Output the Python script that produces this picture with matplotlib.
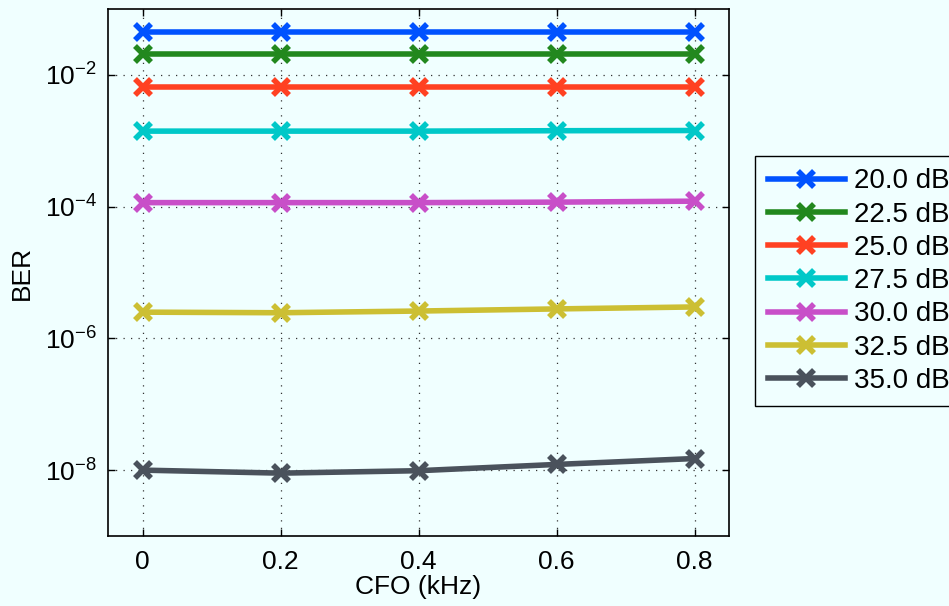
# BER versus carrier frequency offset for several SNR values

import matplotlib.pyplot as plt
from matplotlib.ticker import FixedLocator, NullLocator, LogFormatterMathtext

plt.rcParams["font.family"] = ["Liberation Sans", "DejaVu Sans"]

cfo = [0.0, 0.2, 0.4, 0.6, 0.8]

snr_labels = ["20.0 dB", "22.5 dB", "25.0 dB", "27.5 dB", "30.0 dB", "32.5 dB", "35.0 dB"]

ber_20_0 = [4.5e-2, 4.5e-2, 4.5e-2, 4.5e-2, 4.5e-2]
ber_22_5 = [2.1e-2, 2.1e-2, 2.1e-2, 2.1e-2, 2.1e-2]
ber_25_0 = [6.6e-3, 6.6e-3, 6.6e-3, 6.6e-3, 6.6e-3]
ber_27_5 = [1.40e-3, 1.40e-3, 1.40e-3, 1.42e-3, 1.43e-3]
ber_30_0 = [1.15e-4, 1.15e-4, 1.15e-4, 1.17e-4, 1.21e-4]
ber_32_5 = [2.5e-6, 2.45e-6, 2.6e-6, 2.8e-6, 3.0e-6]
ber_35_0 = [1.0e-8, 0.9e-8, 0.98e-8, 1.22e-8, 1.5e-8]

all_ber = [ber_20_0, ber_22_5, ber_25_0, ber_27_5, ber_30_0, ber_32_5, ber_35_0]
colors = ["#0052FF", "#22881E", "#FF4122", "#00C8C8", "#C84FC8", "#CCBF33", "#4A525C"]

bg = "#F0FFFF"
fs = 19

fig = plt.figure(figsize=(9.49, 6.06), dpi=100, facecolor=bg)
ax = fig.add_axes([108 / 949, 1 - 536 / 606, (729 - 108) / 949, (536 - 9) / 606])
ax.set_facecolor(bg)

for ber, lab, col in zip(all_ber, snr_labels, colors):
    ax.plot(cfo, ber, color=col, lw=4, marker="x", ms=11, mew=4, label=lab)

ax.set_yscale("log")
ax.set_ylim(1e-9, 1e-1)
ax.set_xlim(-0.05, 0.85)
ax.set_xticks(cfo)
ax.set_xticklabels(["0", "0.2", "0.4", "0.6", "0.8"])
ax.yaxis.set_major_locator(FixedLocator([1e-8, 1e-6, 1e-4, 1e-2]))
ax.yaxis.set_major_formatter(LogFormatterMathtext())
ax.yaxis.set_minor_locator(NullLocator())

ax.grid(True, color="#333333", linestyle=(0, (1, 5)), linewidth=0.9)
ax.tick_params(direction="in", length=5, width=1, labelsize=fs, top=True, right=True,
               pad=8)
ax.tick_params(axis="x", pad=10)
for s in ax.spines.values():
    s.set_linewidth(1.2)

ax.set_xlabel("CFO (kHz)", fontsize=fs, labelpad=1)
ax.set_ylabel("BER", fontsize=fs, labelpad=8)

leg = ax.legend(loc="upper left", bbox_to_anchor=(755 / 949, 1 - 156 / 606),
                bbox_transform=fig.transFigure, fontsize=20, frameon=True,
                fancybox=False, edgecolor="black", facecolor=bg, framealpha=1,
                handlelength=2.8, handletextpad=0.3, labelspacing=0.26,
                borderpad=0.45, borderaxespad=0)
leg.get_frame().set_linewidth(1.0)

plt.savefig("out.png", dpi=100, facecolor=bg)
